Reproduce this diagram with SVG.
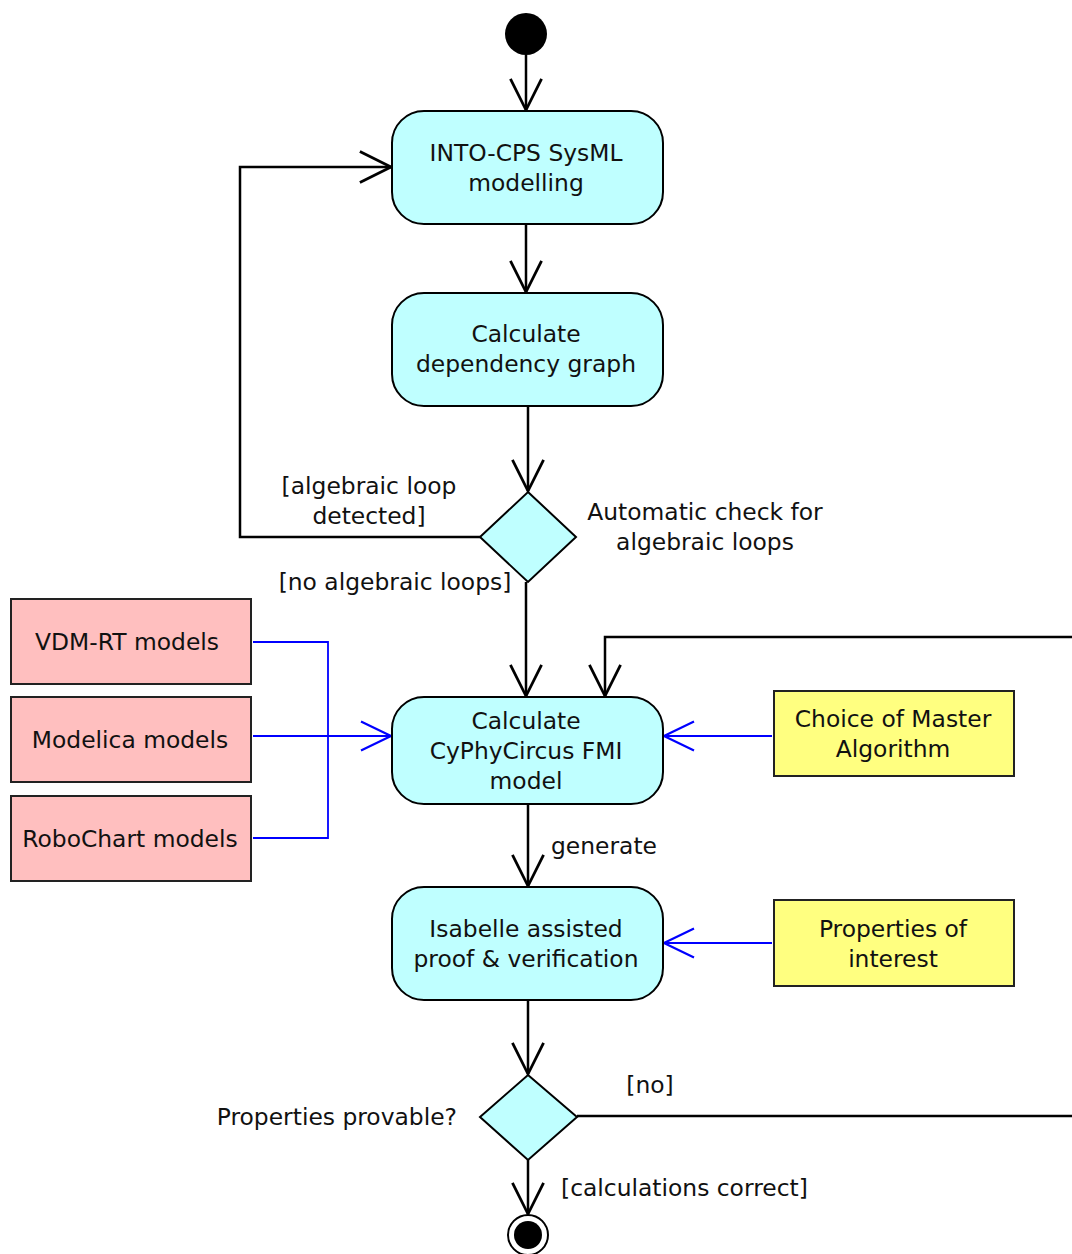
<svg xmlns="http://www.w3.org/2000/svg" width="1072" height="1254" viewBox="0 0 1072 1254">
<style>
.act{fill:#bfffff;stroke:#000;stroke-width:2}
.pink{fill:#ffbfbf;stroke:#222;stroke-width:2}
.yel{fill:#ffff80;stroke:#222;stroke-width:2}
.t{font-family:"DejaVu Sans",Verdana,sans-serif;font-size:23.4px;fill:#111;text-anchor:middle}
.l{font-family:"DejaVu Sans",Verdana,sans-serif;font-size:23.4px;fill:#111}
.e{fill:none;stroke:#000;stroke-width:2.5}
.b{fill:none;stroke:#0000ff;stroke-width:1.8}
</style>
<defs>
<marker id="ah" markerUnits="userSpaceOnUse" markerWidth="40" markerHeight="40" viewBox="-32 -18 36 36" refX="0" refY="0" orient="auto">
<path d="M-28,-14 L0,0 L-28,14" fill="none" stroke="#000" stroke-width="2.5"/>
</marker>
<marker id="bh" markerUnits="userSpaceOnUse" markerWidth="40" markerHeight="40" viewBox="-32 -18 36 36" refX="0" refY="0" orient="auto">
<path d="M-27,-13 L0,0 L-27,13" fill="none" stroke="#0000ff" stroke-width="2"/>
</marker>
</defs>
<g id="connectors">
<line class="e" x1="526" y1="55" x2="526" y2="110" marker-end="url(#ah)"/>
<line class="e" x1="526" y1="224" x2="526" y2="292" marker-end="url(#ah)"/>
<line class="e" x1="528" y1="406" x2="528" y2="491" marker-end="url(#ah)"/>
<path class="e" d="M480,537 L240,537 L240,167 L391,167" marker-end="url(#ah)"/>
<line class="e" x1="526" y1="582" x2="526" y2="696" marker-end="url(#ah)"/>
<path class="e" d="M1080,637 L605,637 L605,696" marker-end="url(#ah)"/>
<line class="e" x1="528" y1="804" x2="528" y2="886" marker-end="url(#ah)"/>
<line class="e" x1="528" y1="1000" x2="528" y2="1074" marker-end="url(#ah)"/>
<line class="e" x1="577" y1="1116" x2="1080" y2="1116"/>
<line class="e" x1="528" y1="1160" x2="528" y2="1214" marker-end="url(#ah)"/>
<path class="b" d="M253,642 L328,642 L328,838 L253,838"/>
<line class="b" x1="253" y1="736" x2="391" y2="736" marker-end="url(#bh)"/>
<line class="b" x1="772" y1="736" x2="664" y2="736" marker-end="url(#bh)"/>
<line class="b" x1="772" y1="943" x2="664" y2="943" marker-end="url(#bh)"/>
<text class="l" x="551" y="854">generate</text>
<text class="t" x="369" y="494">[algebraic loop</text>
<text class="t" x="369" y="524">detected]</text>
<text class="t" x="395" y="590">[no algebraic loops]</text>
<text class="t" x="650" y="1093">[no]</text>
<text class="l" x="561" y="1196">[calculations correct]</text>
</g>
<g id="start"><circle cx="526" cy="34" r="21" fill="#000"/></g>
<g id="n1"><rect class="act" x="392" y="111" width="271" height="113" rx="32"/>
<text class="t" x="526" y="161">INTO-CPS SysML</text><text class="t" x="526" y="191">modelling</text></g>
<g id="n2"><rect class="act" x="392" y="293" width="271" height="113" rx="32"/>
<text class="t" x="526" y="342">Calculate</text><text class="t" x="526" y="372">dependency graph</text></g>
<g id="d1"><polygon class="act" points="528,492 576,537 528,582 480,537"/>
<text class="t" x="705" y="520">Automatic check for</text><text class="t" x="705" y="550">algebraic loops</text></g>
<g id="n3"><rect class="act" x="392" y="697" width="271" height="107" rx="32"/>
<text class="t" x="526" y="729">Calculate</text><text class="t" x="526" y="759">CyPhyCircus FMI</text><text class="t" x="526" y="789">model</text></g>
<g id="vdm"><rect class="pink" x="11" y="599" width="240" height="85"/><text class="t" x="127" y="650">VDM-RT models</text></g>
<g id="modelica"><rect class="pink" x="11" y="697" width="240" height="85"/><text class="t" x="130" y="748">Modelica models</text></g>
<g id="robochart"><rect class="pink" x="11" y="796" width="240" height="85"/><text class="t" x="130" y="847">RoboChart models</text></g>
<g id="master"><rect class="yel" x="774" y="691" width="240" height="85"/>
<text class="t" x="893" y="727">Choice of Master</text><text class="t" x="893" y="757">Algorithm</text></g>
<g id="n4"><rect class="act" x="392" y="887" width="271" height="113" rx="32"/>
<text class="t" x="526" y="937">Isabelle assisted</text><text class="t" x="526" y="967">proof &amp; verification</text></g>
<g id="props"><rect class="yel" x="774" y="900" width="240" height="86"/>
<text class="t" x="893" y="937">Properties of</text><text class="t" x="893" y="967">interest</text></g>
<g id="d2"><polygon class="act" points="528,1075 577,1117 528,1160 480,1117"/>
<text class="l" x="457" y="1125" text-anchor="end">Properties provable?</text></g>
<g id="end"><circle cx="528" cy="1235" r="20" fill="#fff" stroke="#000" stroke-width="2"/><circle cx="528" cy="1235" r="14" fill="#000"/></g>
</svg>
